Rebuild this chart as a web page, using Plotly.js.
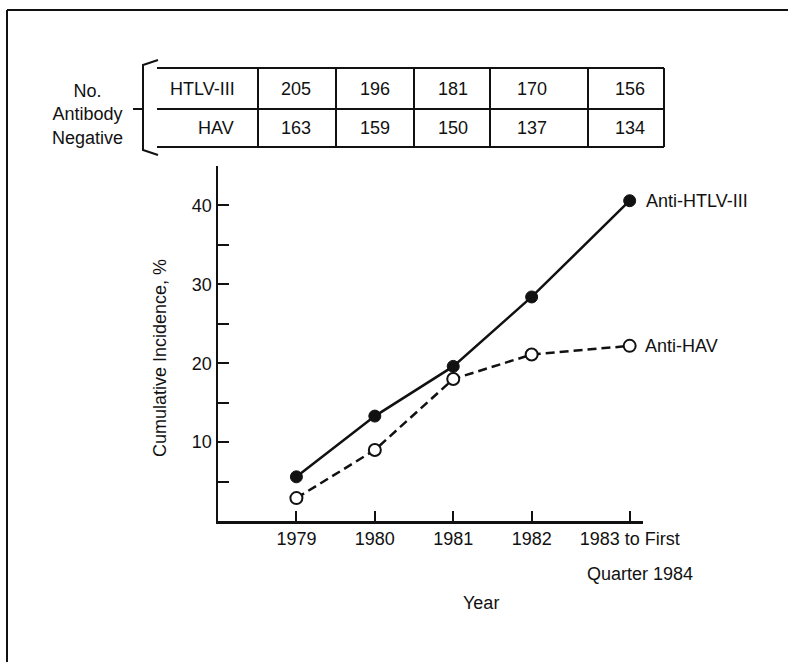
<!DOCTYPE html>
<html><head><meta charset="utf-8">
<script src="https://cdn.plot.ly/plotly-3.0.1.min.js"></script>
<style>html,body{margin:0;padding:0;background:#fff}</style>
</head><body><div id="chart" style="width:788px;height:662px"></div>
<script>
// ---- data ----
const categories = ['1979', '1980', '1981', '1982', '1983 to First'];
const categorySecondLine = 'Quarter 1984';
const xPositions = [1979, 1980, 1981, 1982, 1983.25];
const antiHTLV = [5.6, 13.3, 19.6, 28.4, 40.6];
const antiHAV = [2.9, 9.0, 18.0, 21.1, 22.2];
const negHTLV = [205, 196, 181, 170, 156];
const negHAV = [163, 159, 150, 137, 134];
const yTickVals = [5, 10, 15, 20, 25, 30, 35, 40, 45];
const yTickText = ['', '10', '', '20', '', '30', '', '40', ''];

// ---- layout helpers ----
const W = 788, H = 662, L = 218, R = 145, T = 166, B = 141;
const pw = W - L - R, ph = H - T - B;
const xRange = [1978, 1983.42], yRange = [0, 45];
const px = x => (x - L) / pw;
const py = y => (H - B - y) / ph;
const ink = '#111';
const font = {family: 'Liberation Sans, Arial, sans-serif', size: 18, color: ink};

const traces = [
  {x: xPositions, y: antiHTLV, mode: 'lines+markers', name: 'Anti-HTLV-III',
   line: {color: ink, width: 2.5},
   marker: {symbol: 'circle', size: 12, color: ink, line: {color: ink, width: 1}},
   cliponaxis: false},
  {x: xPositions, y: antiHAV, mode: 'lines+markers', name: 'Anti-HAV',
   line: {color: ink, width: 2.5, dash: '9px,5px'},
   marker: {symbol: 'circle', size: 12, color: '#fff', line: {color: ink, width: 2}},
   cliponaxis: false}
];

const shapes = [];
const line = (x0, y0, x1, y1, w) => shapes.push({type: 'line', xref: 'paper', yref: 'paper',
  x0: px(x0), y0: py(y0), x1: px(x1), y1: py(y1), line: {color: ink, width: w || 2}});
// page frame
line(7, 10, 7, H, 2);
line(7, 10, W, 10, 2);
// table
const tTop = 68, tMid = 109, tBot = 147, tLeft = 157;
const colEdges = [258, 336, 414, 490, 588, 664];
const tRight = colEdges[colEdges.length - 1];
line(tLeft, tTop, tRight, tTop, 2);
line(tLeft, tMid, tRight, tMid, 2);
line(tLeft, tBot, tRight, tBot, 2);
colEdges.forEach(c => line(c, tTop, c, tBot, 2));
// bracket
shapes.push({type: 'path', xref: 'paper', yref: 'paper',
  path: `M${px(158)},${py(60)} L${px(143)},${py(65)} L${px(143)},${py(150)} L${px(158)},${py(155)}`,
  line: {color: ink, width: 2}});
line(133, tMid, 143, tMid, 2);

const annotations = [];
const ann = (o) => annotations.push(Object.assign({showarrow: false, font: font,
  xanchor: 'center', yanchor: 'middle'}, o));
// table labels
ann({xref: 'paper', yref: 'paper', x: px(87), y: py(114), text: 'No.<br>Antibody<br>Negative', align: 'center'});
ann({xref: 'paper', yref: 'paper', x: px(202), y: py(89), text: 'HTLV-III'});
ann({xref: 'paper', yref: 'paper', x: px(216), y: py(128), text: 'HAV'});
xPositions.forEach((xv, i) => {
  ann({xref: 'x', yref: 'paper', x: xv, y: py(89), text: String(negHTLV[i])});
  ann({xref: 'x', yref: 'paper', x: xv, y: py(128), text: String(negHAV[i])});
});
// series labels
const n = xPositions.length - 1;
ann({xref: 'x', yref: 'y', x: xPositions[n], y: antiHTLV[n], xanchor: 'left', xshift: 14, text: 'Anti-HTLV-III'});
ann({xref: 'x', yref: 'y', x: xPositions[n], y: antiHAV[n], xanchor: 'left', xshift: 13, text: 'Anti-HAV'});
// second line of last category label
ann({xref: 'x', yref: 'paper', x: xPositions[n], y: py(574), xshift: 10, text: categorySecondLine});
// axis titles
ann({xref: 'paper', yref: 'paper', x: px(481), y: py(603), text: 'Year'});
ann({xref: 'paper', yref: 'paper', x: px(160), y: py(358), text: 'Cumulative Incidence, %', textangle: -90});

const layout = {
  width: W, height: H,
  margin: {l: L, r: R, t: T, b: B, pad: 0},
  paper_bgcolor: '#fff', plot_bgcolor: '#fff',
  showlegend: false,
  font: font,
  xaxis: {range: xRange, showgrid: false, zeroline: false,
    showline: true, linecolor: ink, linewidth: 2.5,
    tickmode: 'array', tickvals: xPositions, ticktext: categories,
    ticks: 'inside', ticklen: 10, tickwidth: 2, tickcolor: ink,
    tickfont: font, fixedrange: true},
  yaxis: {range: yRange, showgrid: false, zeroline: false,
    showline: true, linecolor: ink, linewidth: 2.5,
    tickmode: 'array', tickvals: yTickVals, ticktext: yTickText,
    ticks: 'inside', ticklen: 11, tickwidth: 2, tickcolor: ink,
    tickfont: font, fixedrange: true},
  shapes: shapes,
  annotations: annotations
};

Plotly.newPlot('chart', traces, layout, {displayModeBar: false, staticPlot: true});
</script></body></html>
